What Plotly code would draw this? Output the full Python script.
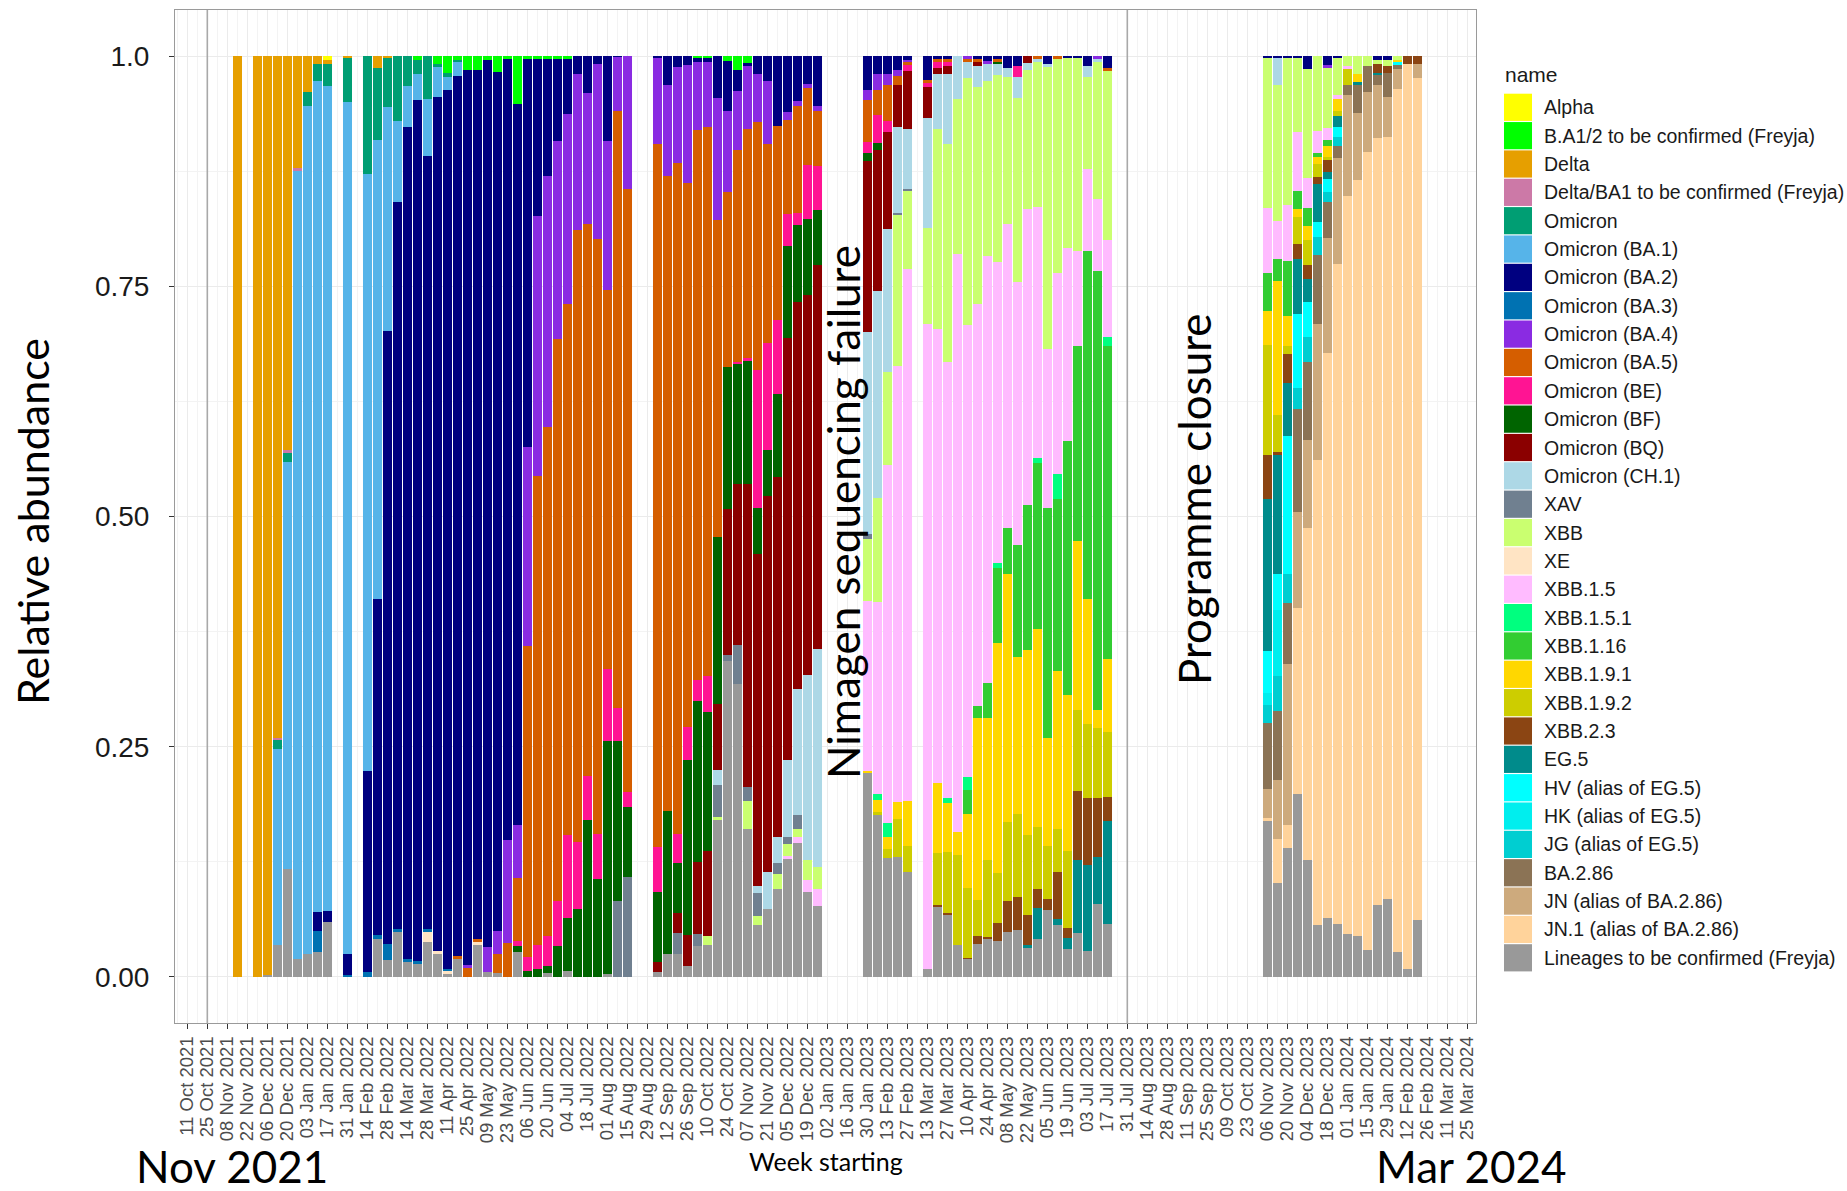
import plotly.graph_objects as go

# ---------------- data (relative abundance) ----------------
alpha = {"2022-01-17": 0.004}
ba12 = {"2022-03-21": 0.004, "2022-04-04": 0.009, "2022-04-11": 0.018, "2022-04-18": 0.004, "2022-04-25": 0.015,
        "2022-05-02": 0.015, "2022-05-09": 0.004, "2022-05-16": 0.017, "2022-05-23": 0.003, "2022-05-30": 0.052,
        "2022-06-06": 0.003, "2022-06-13": 0.003, "2022-06-20": 0.003, "2022-06-27": 0.003, "2022-07-04": 0.003,
        "2022-10-03": 0.002, "2022-10-10": 0.002, "2022-10-24": 0.005, "2022-10-31": 0.015, "2022-11-07": 0.007}
delta = {"2021-11-15": 1.0, "2021-11-29": 1.0, "2021-12-06": 0.998, "2021-12-13": 0.74, "2021-12-20": 0.428,
         "2021-12-27": 0.122, "2022-01-03": 0.039, "2022-01-10": 0.009, "2022-01-17": 0.005, "2022-01-31": 0.002,
         "2022-02-21": 0.013, "2022-02-28": 0.002}
delta_ba1 = {"2021-12-13": 0.003, "2021-12-20": 0.003, "2021-12-27": 0.003}
omicron = {"2021-12-13": 0.009, "2021-12-20": 0.01, "2022-01-03": 0.015, "2022-01-10": 0.018, "2022-01-17": 0.024,
           "2022-01-31": 0.048, "2022-02-14": 0.128, "2022-02-21": 0.078, "2022-02-28": 0.054, "2022-03-07": 0.07,
           "2022-03-14": 0.032, "2022-03-21": 0.016, "2022-03-28": 0.047, "2022-04-04": 0.002, "2022-04-11": 0.005,
           "2022-04-18": 0.003}
ba1 = {"2021-12-13": 0.213, "2021-12-20": 0.442, "2021-12-27": 0.856, "2022-01-03": 0.921, "2022-01-10": 0.902,
       "2022-01-17": 0.897, "2022-01-31": 0.925, "2022-02-14": 0.648, "2022-02-21": 0.499, "2022-02-28": 0.244,
       "2022-03-07": 0.088, "2022-03-14": 0.045, "2022-03-21": 0.028, "2022-03-28": 0.061, "2022-04-04": 0.033,
       "2022-04-11": 0.014, "2022-04-18": 0.015}
ba2 = {"2022-01-10": 0.021, "2022-01-17": 0.012, "2022-01-31": 0.023, "2022-02-14": 0.219, "2022-02-21": 0.364,
       "2022-02-28": 0.667, "2022-03-07": 0.79, "2022-03-14": 0.903, "2022-03-21": 0.935, "2022-03-28": 0.84,
       "2022-04-04": 0.928, "2022-04-11": 0.954, "2022-04-18": 0.955, "2022-04-25": 0.972, "2022-05-02": 0.944,
       "2022-05-09": 0.964, "2022-05-16": 0.933, "2022-05-23": 0.848, "2022-05-30": 0.783, "2022-06-06": 0.422,
       "2022-06-13": 0.171, "2022-06-20": 0.127, "2022-06-27": 0.089, "2022-07-04": 0.06, "2022-07-11": 0.019,
       "2022-07-18": 0.04, "2022-07-25": 0.009, "2022-08-01": 0.092, "2022-08-08": 0.001,
       "2022-09-05": 0.002, "2022-09-12": 0.031, "2022-09-19": 0.012, "2022-09-26": 0.01, "2022-10-03": 0.004,
       "2022-10-10": 0.004, "2022-10-17": 0.045, "2022-10-24": 0.055, "2022-10-31": 0.023, "2022-11-07": 0.004,
       "2022-11-14": 0.02, "2022-11-21": 0.027, "2022-11-28": 0.076, "2022-12-05": 0.061, "2022-12-12": 0.049,
       "2022-12-19": 0.03, "2022-12-26": 0.054,
       "2023-01-30": 0.037, "2023-02-06": 0.02, "2023-02-13": 0.02, "2023-02-20": 0.015, "2023-02-27": 0.004,
       "2023-03-13": 0.026, "2023-03-20": 0.003, "2023-03-27": 0.003, "2023-04-17": 0.003, "2023-04-24": 0.005,
       "2023-05-01": 0.003, "2023-05-08": 0.013, "2023-05-15": 0.011, "2023-06-05": 0.009, "2023-06-19": 0.002,
       "2023-06-26": 0.002, "2023-07-03": 0.011, "2023-07-17": 0.013,
       "2023-11-06": 0.002, "2023-11-13": 0.002, "2023-11-20": 0.002, "2023-11-27": 0.002, "2023-12-04": 0.014,
       "2023-12-18": 0.01, "2023-12-25": 0.002, "2024-01-22": 0.004, "2024-01-29": 0.004}
ba3 = {"2022-01-10": 0.023, "2022-01-31": 0.002, "2022-02-14": 0.005, "2022-02-21": 0.005, "2022-02-28": 0.017,
       "2022-03-07": 0.003, "2022-03-14": 0.004, "2022-03-21": 0.003, "2022-03-28": 0.003, "2022-04-11": 0.002}
ba4 = {"2022-04-25": 0.003, "2022-05-09": 0.027, "2022-05-16": 0.025, "2022-05-23": 0.112, "2022-05-30": 0.058,
       "2022-06-06": 0.216, "2022-06-13": 0.282, "2022-06-20": 0.273, "2022-06-27": 0.215, "2022-07-04": 0.206,
       "2022-07-11": 0.17, "2022-07-18": 0.142, "2022-07-25": 0.19, "2022-08-01": 0.162, "2022-08-08": 0.059,
       "2022-08-15": 0.144,
       "2022-09-05": 0.094, "2022-09-12": 0.099, "2022-09-19": 0.104, "2022-09-26": 0.128, "2022-10-03": 0.074,
       "2022-10-10": 0.071, "2022-10-17": 0.133, "2022-10-24": 0.088, "2022-10-31": 0.064, "2022-11-07": 0.068,
       "2022-11-14": 0.052, "2022-11-21": 0.069, "2022-12-05": 0.009, "2022-12-12": 0.005, "2022-12-19": 0.005,
       "2022-12-26": 0.006,
       "2023-01-30": 0.011, "2023-02-06": 0.017, "2023-02-13": 0.011, "2023-02-20": 0.007, "2023-02-27": 0.003,
       "2023-04-10": 0.003, "2023-04-24": 0.004, "2023-07-10": 0.003, "2023-12-18": 0.003}
ba5 = {"2022-04-18": 0.004, "2022-04-25": 0.01, "2022-05-02": 0.003, "2022-05-16": 0.021, "2022-05-23": 0.037,
       "2022-05-30": 0.068, "2022-06-06": 0.337, "2022-06-13": 0.509, "2022-06-20": 0.552, "2022-06-27": 0.61,
       "2022-07-04": 0.577, "2022-07-11": 0.664, "2022-07-18": 0.6, "2022-07-25": 0.647, "2022-08-01": 0.412,
       "2022-08-08": 0.648, "2022-08-15": 0.655,
       "2022-09-05": 0.766, "2022-09-12": 0.69, "2022-09-19": 0.729, "2022-09-26": 0.59, "2022-10-03": 0.598,
       "2022-10-10": 0.598, "2022-10-17": 0.344, "2022-10-24": 0.19, "2022-10-31": 0.23, "2022-11-07": 0.248,
       "2022-11-14": 0.269, "2022-11-21": 0.216, "2022-11-28": 0.211, "2022-12-05": 0.102, "2022-12-12": 0.116,
       "2022-12-19": 0.083, "2022-12-26": 0.059,
       "2023-01-30": 0.045, "2023-02-06": 0.027, "2023-02-13": 0.04, "2023-02-20": 0.009, "2023-02-27": 0.002,
       "2023-03-13": 0.003, "2023-03-20": 0.003, "2023-03-27": 0.003, "2023-04-10": 0.003, "2023-04-17": 0.003,
       "2023-05-01": 0.003, "2023-05-29": 0.003, "2023-06-12": 0.003, "2023-07-17": 0.003}
be = {"2022-05-30": 0.005, "2022-06-06": 0.016, "2022-06-13": 0.026, "2022-06-20": 0.033, "2022-06-27": 0.049,
      "2022-07-04": 0.09, "2022-07-11": 0.073, "2022-07-18": 0.048, "2022-07-25": 0.049, "2022-08-01": 0.078,
      "2022-08-08": 0.036, "2022-08-15": 0.016,
      "2022-09-05": 0.049, "2022-09-19": 0.031, "2022-09-26": 0.036, "2022-10-03": 0.023, "2022-10-10": 0.039,
      "2022-10-31": 0.002, "2022-11-07": 0.003, "2022-11-14": 0.15, "2022-11-21": 0.116, "2022-11-28": 0.08,
      "2022-12-05": 0.035, "2022-12-12": 0.013, "2022-12-19": 0.059, "2022-12-26": 0.048,
      "2023-01-30": 0.012, "2023-02-06": 0.031, "2023-02-13": 0.011, "2023-02-27": 0.007, "2023-03-13": 0.005,
      "2023-03-20": 0.007, "2023-03-27": 0.005, "2023-05-15": 0.012}
bf = {"2022-05-30": 0.007, "2022-06-06": 0.006, "2022-06-13": 0.009, "2022-06-20": 0.008, "2022-06-27": 0.034,
      "2022-07-04": 0.058, "2022-07-11": 0.074, "2022-07-18": 0.17, "2022-07-25": 0.106, "2022-08-01": 0.254,
      "2022-08-08": 0.174, "2022-08-15": 0.076,
      "2022-09-05": 0.076, "2022-09-12": 0.155, "2022-09-19": 0.055, "2022-09-26": 0.19, "2022-10-03": 0.175,
      "2022-10-10": 0.151, "2022-10-17": 0.181, "2022-10-24": 0.154, "2022-10-31": 0.131, "2022-11-07": 0.133,
      "2022-11-14": 0.05, "2022-11-21": 0.05, "2022-11-28": 0.09, "2022-12-05": 0.1, "2022-12-12": 0.084,
      "2022-12-19": 0.082, "2022-12-26": 0.06,
      "2023-01-30": 0.009, "2023-02-06": 0.007, "2023-05-01": 0.003}
bq = {"2022-09-05": 0.011, "2022-09-19": 0.021, "2022-09-26": 0.033, "2022-10-03": 0.078, "2022-10-10": 0.092,
      "2022-10-17": 0.072, "2022-10-24": 0.158, "2022-10-31": 0.175, "2022-11-07": 0.328, "2022-11-14": 0.361,
      "2022-11-21": 0.408, "2022-11-28": 0.391, "2022-12-05": 0.459, "2022-12-12": 0.42, "2022-12-19": 0.412,
      "2022-12-26": 0.418,
      "2023-01-30": 0.186, "2023-02-06": 0.153, "2023-02-13": 0.106, "2023-02-20": 0.046, "2023-02-27": 0.063,
      "2023-03-13": 0.033, "2023-03-20": 0.007, "2023-03-27": 0.009, "2023-04-17": 0.005, "2023-05-22": 0.008}
ch1 = {"2022-10-17": 0.016, "2022-11-14": 0.008, "2022-11-21": 0.04, "2022-11-28": 0.028, "2022-12-05": 0.084,
       "2022-12-12": 0.137, "2022-12-19": 0.201, "2022-12-26": 0.237,
       "2023-01-30": 0.219, "2023-02-06": 0.225, "2023-02-13": 0.155, "2023-02-20": 0.093, "2023-02-27": 0.065,
       "2023-03-13": 0.12, "2023-03-20": 0.059, "2023-03-27": 0.076, "2023-04-03": 0.047, "2023-04-10": 0.018,
       "2023-04-17": 0.023, "2023-04-24": 0.018, "2023-05-01": 0.012, "2023-05-08": 0.01, "2023-05-15": 0.023,
       "2023-05-22": 0.007, "2023-05-29": 0.003, "2023-06-05": 0.003, "2023-07-03": 0.012, "2023-07-10": 0.003,
       "2023-11-13": 0.029}
xav = {"2022-08-08": 0.082, "2022-08-15": 0.109, "2022-09-19": 0.023, "2022-10-03": 0.013, "2022-10-17": 0.035,
       "2022-10-24": 0.007, "2022-10-31": 0.042, "2022-11-07": 0.015, "2022-11-14": 0.025, "2022-11-28": 0.012,
       "2022-12-05": 0.007, "2022-12-12": 0.015, "2023-01-30": 0.005, "2023-02-20": 0.003, "2023-02-27": 0.003}
xbb = {"2022-10-10": 0.01, "2022-10-17": 0.003, "2022-11-07": 0.031, "2022-11-14": 0.01, "2022-11-28": 0.017,
       "2022-12-05": 0.013, "2022-12-12": 0.009, "2022-12-19": 0.022, "2022-12-26": 0.023,
       "2023-01-30": 0.068, "2023-02-06": 0.113, "2023-02-13": 0.101, "2023-02-20": 0.164, "2023-02-27": 0.085,
       "2023-03-13": 0.104, "2023-03-20": 0.217, "2023-03-27": 0.237, "2023-04-03": 0.168, "2023-04-10": 0.268,
       "2023-04-17": 0.235, "2023-04-24": 0.191, "2023-05-01": 0.202, "2023-05-08": 0.159, "2023-05-15": 0.199,
       "2023-05-22": 0.151, "2023-05-29": 0.158, "2023-06-05": 0.306, "2023-06-12": 0.232, "2023-06-19": 0.207,
       "2023-06-26": 0.21, "2023-07-03": 0.1, "2023-07-10": 0.149, "2023-07-17": 0.184,
       "2023-11-06": 0.163, "2023-11-13": 0.148, "2023-11-20": 0.16, "2023-11-27": 0.081, "2023-12-04": 0.118,
       "2023-12-11": 0.082, "2023-12-18": 0.065, "2023-12-25": 0.04, "2024-01-01": 0.011, "2024-01-08": 0.019,
       "2024-01-15": 0.011, "2024-01-22": 0.005, "2024-01-29": 0.007, "2024-02-05": 0.004}
xe = {"2022-03-28": 0.011, "2022-04-04": 0.003, "2022-04-11": 0.004, "2022-05-02": 0.003}
xbb15 = {"2022-12-05": 0.004, "2022-12-12": 0.006, "2022-12-19": 0.013, "2022-12-26": 0.019,
         "2023-01-30": 0.184, "2023-02-06": 0.209, "2023-02-13": 0.389, "2023-02-20": 0.473, "2023-02-27": 0.578,
         "2023-03-13": 0.7, "2023-03-20": 0.493, "2023-03-27": 0.474, "2023-04-03": 0.628, "2023-04-10": 0.49,
         "2023-04-17": 0.436, "2023-04-24": 0.464, "2023-05-01": 0.327, "2023-05-08": 0.331, "2023-05-15": 0.286,
         "2023-05-22": 0.322, "2023-05-29": 0.272, "2023-06-05": 0.173, "2023-06-12": 0.218, "2023-06-19": 0.209,
         "2023-06-26": 0.103, "2023-07-03": 0.089, "2023-07-10": 0.078, "2023-07-17": 0.105,
         "2023-11-06": 0.071, "2023-11-13": 0.041, "2023-11-20": 0.06, "2023-11-27": 0.064, "2023-12-04": 0.033,
         "2023-12-11": 0.023, "2023-12-18": 0.013, "2023-12-25": 0.005, "2024-01-01": 0.003}
xbb151 = {"2023-02-06": 0.007, "2023-02-13": 0.015, "2023-03-27": 0.005, "2023-04-10": 0.014, "2023-05-01": 0.005,
          "2023-05-29": 0.006, "2023-06-12": 0.028, "2023-07-17": 0.009}
xbb116 = {"2023-04-10": 0.026, "2023-04-17": 0.013, "2023-04-24": 0.038, "2023-05-01": 0.082, "2023-05-08": 0.049,
          "2023-05-15": 0.122, "2023-05-22": 0.158, "2023-05-29": 0.18, "2023-06-05": 0.25, "2023-06-12": 0.186,
          "2023-06-19": 0.276, "2023-06-26": 0.212, "2023-07-03": 0.378, "2023-07-10": 0.477, "2023-07-17": 0.34,
          "2023-11-06": 0.041, "2023-11-13": 0.024, "2023-11-20": 0.06, "2023-11-27": 0.019, "2023-12-04": 0.02,
          "2023-12-11": 0.005, "2023-12-18": 0.007}
xbb191 = {"2023-01-30": 0.003, "2023-02-06": 0.013, "2023-02-13": 0.013, "2023-02-20": 0.018, "2023-02-27": 0.049,
          "2023-03-20": 0.076, "2023-03-27": 0.053, "2023-04-03": 0.025, "2023-04-10": 0.08, "2023-04-17": 0.197,
          "2023-04-24": 0.155, "2023-05-01": 0.249, "2023-05-08": 0.27, "2023-05-15": 0.17, "2023-05-22": 0.201,
          "2023-05-29": 0.215, "2023-06-05": 0.117, "2023-06-12": 0.171, "2023-06-19": 0.17, "2023-06-26": 0.184,
          "2023-07-03": 0.135, "2023-07-10": 0.02, "2023-07-17": 0.079,
          "2023-11-06": 0.037, "2023-11-13": 0.146, "2023-11-20": 0.033, "2023-11-27": 0.009, "2023-12-04": 0.015,
          "2023-12-11": 0.007, "2023-12-18": 0.012, "2023-12-25": 0.013, "2024-01-08": 0.009, "2024-02-05": 0.003}
xbb192 = {"2023-02-06": 0.003, "2023-02-13": 0.01, "2023-02-20": 0.042, "2023-02-27": 0.028, "2023-03-20": 0.057,
          "2023-03-27": 0.066, "2023-04-03": 0.097, "2023-04-10": 0.076, "2023-04-17": 0.04, "2023-04-24": 0.083,
          "2023-05-01": 0.054, "2023-05-08": 0.086, "2023-05-15": 0.09, "2023-05-22": 0.087, "2023-05-29": 0.068,
          "2023-06-05": 0.057, "2023-06-12": 0.047, "2023-06-19": 0.084, "2023-06-26": 0.088, "2023-07-03": 0.081,
          "2023-07-10": 0.076, "2023-07-17": 0.071,
          "2023-11-06": 0.12, "2023-11-13": 0.04, "2023-11-20": 0.008, "2023-11-27": 0.029, "2023-12-04": 0.027,
          "2023-12-11": 0.015, "2023-12-18": 0.003, "2023-12-25": 0.005, "2024-01-01": 0.017}
xbb23 = {"2023-03-20": 0.002, "2023-03-27": 0.002, "2023-04-10": 0.001, "2023-04-17": 0.008, "2023-04-24": 0.003,
         "2023-05-01": 0.02, "2023-05-08": 0.033, "2023-05-15": 0.036, "2023-05-22": 0.032, "2023-05-29": 0.02,
         "2023-06-05": 0.012, "2023-06-12": 0.051, "2023-06-19": 0.011, "2023-06-26": 0.075, "2023-07-03": 0.072,
         "2023-07-10": 0.064, "2023-07-17": 0.026,
         "2023-11-06": 0.047, "2023-11-13": 0.003, "2023-11-20": 0.032, "2023-11-27": 0.017, "2023-12-04": 0.015,
         "2023-12-11": 0.007, "2023-12-18": 0.013, "2024-01-22": 0.009, "2024-01-29": 0.007, "2024-02-12": 0.009,
         "2024-02-19": 0.009}
eg5 = {"2023-05-22": 0.003, "2023-05-29": 0.034, "2023-06-12": 0.007, "2023-06-19": 0.012, "2023-06-26": 0.079,
       "2023-07-03": 0.094, "2023-07-10": 0.051, "2023-07-17": 0.112,
       "2023-11-06": 0.166, "2023-11-13": 0.129, "2023-11-20": 0.057, "2023-11-27": 0.06, "2023-12-04": 0.025,
       "2023-12-11": 0.041, "2023-12-18": 0.007, "2023-12-25": 0.012, "2024-01-08": 0.003, "2024-01-22": 0.003}
hv = {"2023-11-06": 0.045, "2023-11-13": 0.039, "2023-11-20": 0.15, "2023-11-27": 0.08, "2023-12-04": 0.038,
      "2023-12-11": 0.017, "2023-12-18": 0.015, "2023-12-25": 0.011, "2024-02-05": 0.002}
hk = {"2023-11-06": 0.013, "2023-11-13": 0.072}
jg = {"2023-11-06": 0.02, "2023-11-13": 0.038, "2023-11-20": 0.031, "2023-11-27": 0.023, "2023-12-04": 0.027,
      "2023-12-11": 0.019, "2023-12-18": 0.011, "2023-12-25": 0.01}
ba286 = {"2023-11-06": 0.072, "2023-11-13": 0.075, "2023-11-20": 0.066, "2023-11-27": 0.112, "2023-12-04": 0.085,
         "2023-12-11": 0.075, "2023-12-18": 0.039, "2023-12-25": 0.013, "2024-01-01": 0.011, "2024-01-08": 0.031,
         "2024-01-15": 0.028, "2024-01-22": 0.01, "2024-01-29": 0.027, "2024-02-05": 0.005}
jn = {"2023-11-06": 0.031, "2023-11-13": 0.064, "2023-11-20": 0.175, "2023-11-27": 0.105, "2023-12-04": 0.096,
      "2023-12-11": 0.148, "2023-12-18": 0.124, "2023-12-25": 0.115, "2024-01-01": 0.11, "2024-01-08": 0.073,
      "2024-01-15": 0.065, "2024-01-22": 0.058, "2024-01-29": 0.043, "2024-02-05": 0.022, "2024-02-19": 0.015}
jn1 = {"2023-11-06": 0.003, "2023-11-13": 0.048, "2023-11-20": 0.025, "2023-11-27": 0.202, "2023-12-04": 0.36,
       "2023-12-11": 0.505, "2023-12-18": 0.614, "2023-12-25": 0.716, "2024-01-01": 0.801, "2024-01-08": 0.821,
       "2024-01-15": 0.868, "2024-01-22": 0.83, "2024-01-29": 0.828, "2024-02-05": 0.937, "2024-02-12": 0.982,
       "2024-02-19": 0.914}
lineages = {"2021-12-06": 0.002, "2021-12-13": 0.035, "2021-12-20": 0.117, "2021-12-27": 0.019, "2022-01-03": 0.025,
            "2022-01-10": 0.027, "2022-01-17": 0.06, "2022-02-21": 0.041, "2022-02-28": 0.019, "2022-03-07": 0.049,
            "2022-03-14": 0.016, "2022-03-21": 0.014, "2022-03-28": 0.038, "2022-04-04": 0.025, "2022-04-11": 0.003,
            "2022-04-18": 0.019, "2022-05-02": 0.035, "2022-05-09": 0.005, "2022-05-16": 0.004, "2022-05-30": 0.027,
            "2022-06-20": 0.004, "2022-07-04": 0.006, "2022-08-01": 0.003,
            "2022-09-05": 0.005, "2022-09-12": 0.025, "2022-09-19": 0.025, "2022-09-26": 0.012, "2022-10-03": 0.034,
            "2022-10-10": 0.035, "2022-10-17": 0.17, "2022-10-24": 0.343, "2022-10-31": 0.318, "2022-11-07": 0.16,
            "2022-11-14": 0.056, "2022-11-21": 0.074, "2022-11-28": 0.095, "2022-12-05": 0.128, "2022-12-12": 0.146,
            "2022-12-19": 0.092, "2022-12-26": 0.077,
            "2023-01-30": 0.221, "2023-02-06": 0.176, "2023-02-13": 0.129, "2023-02-20": 0.13, "2023-02-27": 0.114,
            "2023-03-13": 0.009, "2023-03-20": 0.076, "2023-03-27": 0.068, "2023-04-03": 0.035, "2023-04-10": 0.02,
            "2023-04-17": 0.036, "2023-04-24": 0.041, "2023-05-01": 0.039, "2023-05-08": 0.049, "2023-05-15": 0.051,
            "2023-05-22": 0.032, "2023-05-29": 0.041, "2023-06-05": 0.073, "2023-06-12": 0.056, "2023-06-19": 0.03,
            "2023-06-26": 0.048, "2023-07-03": 0.028, "2023-07-10": 0.079, "2023-07-17": 0.057,
            "2023-11-06": 0.17, "2023-11-13": 0.102, "2023-11-20": 0.14, "2023-11-27": 0.199, "2023-12-04": 0.127,
            "2023-12-11": 0.057, "2023-12-18": 0.064, "2023-12-25": 0.057, "2024-01-01": 0.047, "2024-01-08": 0.044,
            "2024-01-15": 0.029, "2024-01-22": 0.078, "2024-01-29": 0.085, "2024-02-05": 0.027, "2024-02-12": 0.009,
            "2024-02-19": 0.062}

names = ["Alpha", "B.A1/2 to be confirmed (Freyja)", "Delta", "Delta/BA1 to be confirmed (Freyja)", "Omicron",
         "Omicron (BA.1)", "Omicron (BA.2)", "Omicron (BA.3)", "Omicron (BA.4)", "Omicron (BA.5)", "Omicron (BE)",
         "Omicron (BF)", "Omicron (BQ)", "Omicron (CH.1)", "XAV", "XBB", "XE", "XBB.1.5", "XBB.1.5.1", "XBB.1.16",
         "XBB.1.9.1", "XBB.1.9.2", "XBB.2.3", "EG.5", "HV (alias of EG.5)", "HK (alias of EG.5)",
         "JG (alias of EG.5)", "BA.2.86", "JN (alias of BA.2.86)", "JN.1 (alias of BA.2.86)",
         "Lineages to be confirmed (Freyja)"]
colors = ["#FFFF00", "#00FF00", "#E69F00", "#CC79A7", "#009E73", "#56B4E9", "#000080", "#0072B2", "#8A2BE2",
          "#D55E00", "#FF1493", "#006400", "#8B0000", "#ADD8E6", "#708090", "#CAFF70", "#FFE4C4", "#FFBBFF",
          "#00FF7F", "#32CD32", "#FFD700", "#CDCD00", "#8B4513", "#008B8B", "#00FFFF", "#00EEEE", "#00CED1",
          "#8B7355", "#CDAA7D", "#FFD39B", "#999999"]
series = [alpha, ba12, delta, delta_ba1, omicron, ba1, ba2, ba3, ba4, ba5, be, bf, bq, ch1, xav, xbb, xe,
          xbb15, xbb151, xbb116, xbb191, xbb192, xbb23, eg5, hv, hk, jg, ba286, jn, jn1, lineages]

y_ticks = [0, 0.25, 0.5, 0.75, 1.0]
y_ticktext = ["0.00", "0.25", "0.50", "0.75", "1.0"]
vlines = ["2021-10-25", "2023-07-31"]

# ---------------- figure ----------------
W, H = 1847, 1191
L, R, T, B = 175, 1476, 10, 1023          # plot area in pixels
pw, ph = R - L, B - T

def px(x):
    return (x - L) / pw

def py(y):
    return (B - y) / ph

weeks = sorted(set().union(*[s.keys() for s in series]))
totals = {w: sum(s.get(w, 0.0) for s in series) for w in weeks}
DAY = 86400000
BAR_W = 0.9 * 7 * DAY

fig = go.Figure()
for name, color, s in reversed(list(zip(names, colors, series))):
    fig.add_trace(go.Bar(
        x=weeks, y=[s.get(w, 0.0) / totals[w] for w in weeks],
        name=name, marker=dict(color=color, line=dict(width=0)),
        width=BAR_W, showlegend=False,
    ))

shapes = []
for d in vlines:
    shapes.append(dict(type="line", xref="x", yref="paper", x0=d, x1=d, y0=0, y1=1,
                       line=dict(color="#a9a9a9", width=1.6), layer="above"))

annotations = []
# manual legend
annotations.append(dict(text="name", xref="paper", yref="paper", x=px(1503), y=py(74),
                        xanchor="left", yanchor="middle", showarrow=False,
                        font=dict(family="Liberation Sans, Arial, sans-serif", size=21, color="#1a1a1a")))
row0, step = 107.3, 28.35
for i, (name, color) in enumerate(zip(names, colors)):
    cy = row0 + step * i
    shapes.append(dict(type="rect", xref="paper", yref="paper",
                       x0=px(1504), x1=px(1532), y0=py(cy + 13.6), y1=py(cy - 13.6),
                       fillcolor=color, line=dict(width=0), layer="above"))
    annotations.append(dict(text=name, xref="paper", yref="paper", x=px(1542), y=py(cy),
                            xanchor="left", yanchor="middle", showarrow=False,
                            font=dict(family="Liberation Sans, Arial, sans-serif", size=19.5, color="#1a1a1a")))

big = dict(family="Lato, sans-serif", size=44, color="#000000")
centered = dict(xref="paper", yref="paper", xanchor="center", yanchor="middle", showarrow=False)
annotations += [
    dict(text="Relative abundance", x=px(32), y=py(522), textangle=-90,
         font=dict(family="Lato, sans-serif", size=43, color="#000000"), **centered),
    dict(text="Nimagen sequencing failure", x=px(843), y=py(512), textangle=-90, font=big, **centered),
    dict(text="Programme closure", x=px(1194), y=py(499), textangle=-90, font=big, **centered),
    dict(text="Nov 2021", x=px(232), y=py(1166), font=big, **centered),
    dict(text="Mar 2024", x=px(1471), y=py(1166), font=big, **centered),
    dict(text="Week starting", x=px(826), y=py(1161),
         font=dict(family="Lato, sans-serif", size=25, color="#000000"), **centered),
]

fig.update_layout(
    width=W, height=H,
    margin=dict(l=L, r=W - R, t=T, b=H - B, pad=0),
    barmode="stack", bargap=0,
    plot_bgcolor="white", paper_bgcolor="white",
    shapes=shapes, annotations=annotations,
    showlegend=False,
)
fig.update_xaxes(
    type="date", range=["2021-10-02 09:00", "2024-03-31 02:00"],
    tick0="2021-10-11", dtick=14 * DAY, tickformat="%d %b %Y", tickangle=-90,
    tickfont=dict(family="Liberation Sans, Arial, sans-serif", size=18.5, color="#4d4d4d"),
    ticks="outside", ticklen=5, tickcolor="#333333", tickwidth=1,
    showgrid=True, gridcolor="#ebebeb", gridwidth=1.1,
    minor=dict(tick0="2021-10-11", dtick=7 * DAY, showgrid=True, gridcolor="#f3f3f3", gridwidth=0.6),
    showline=True, linecolor="#9a9a9a", linewidth=1, mirror=True, zeroline=False,
)
fig.update_yaxes(
    range=[-0.05, 1.05], tickmode="array", tickvals=y_ticks, ticktext=y_ticktext,
    tickfont=dict(family="Liberation Sans, Arial, sans-serif", size=28, color="#1a1a1a"),
    ticks="outside", ticklen=5, tickcolor="#333333", tickwidth=1, ticklabelstandoff=14,
    showgrid=True, gridcolor="#ebebeb", gridwidth=1.1,
    minor=dict(tickmode="array", tickvals=[0.125, 0.375, 0.625, 0.875], showgrid=True,
               gridcolor="#f3f3f3", gridwidth=0.6),
    showline=True, linecolor="#9a9a9a", linewidth=1, mirror=True, zeroline=False,
)

fig.write_html("out.html", post_script="document.body.style.margin='0';",
               config={"displayModeBar": False})
